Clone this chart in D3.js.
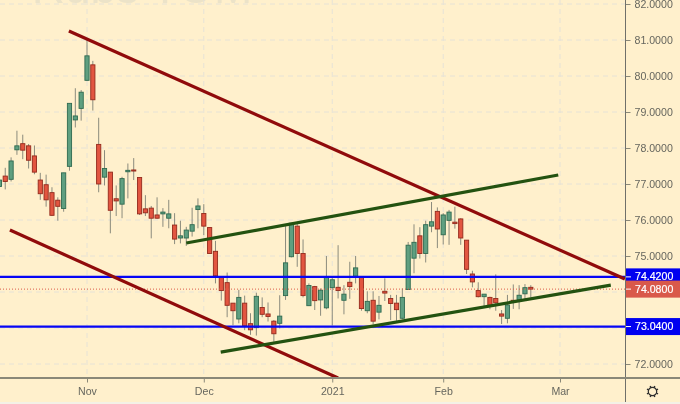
<!DOCTYPE html>
<html><head><meta charset="utf-8">
<script src="https://cdn.jsdelivr.net/npm/d3@7"></script>
<style>html,body{margin:0;padding:0;background:#fff0cc;overflow:hidden}svg{display:block;filter:blur(0.3px)}text{font-family:"Liberation Sans",Arial,sans-serif}</style>
</head><body><svg id="c" width="680" height="404"></svg>
<script>
const opens=[76.93,77.22,77.13,77.95,78.12,78.06,77.78,77.11,76.98,76.76,
76.55,76.32,77.49,78.78,79.10,79.88,80.31,78.10,77.19,77.33,
76.59,76.44,77.34,77.39,77.18,76.31,76.33,76.14,76.17,76.05,
75.86,75.50,75.50,75.69,76.29,76.18,75.79,75.13,74.43,74.26,
73.69,73.25,73.69,73.12,73.01,73.57,73.39,73.19,73.13,73.90,
74.98,75.83,75.07,73.62,74.15,73.78,73.56,74.12,74.13,73.77,
74.27,74.44,74.43,73.48,73.77,73.44,74.02,73.82,73.69,73.27,
74.07,74.94,75.56,75.07,75.83,76.24,75.59,75.99,75.94,76.03,
75.44,74.50,74.04,73.87,73.85,73.82,73.39,73.27,73.77,73.78,
73.95,74.13];
const closes=[77.11,77.07,77.64,78.06,77.94,77.66,77.33,76.73,76.56,76.13,
76.38,77.31,79.24,78.89,79.55,80.56,79.34,77.00,77.43,76.27,
76.53,77.15,77.38,77.36,76.17,76.20,76.05,76.05,76.22,76.17,
75.47,75.56,75.72,75.87,76.39,75.83,75.07,74.45,74.04,73.63,
73.48,73.85,73.06,72.95,73.88,73.38,73.32,72.84,73.33,74.81,
75.91,75.07,73.90,74.18,73.76,74.05,74.41,74.34,74.04,73.94,
74.15,74.67,73.54,73.74,73.19,73.63,73.97,73.68,73.51,73.85,
75.30,75.38,75.07,75.87,75.95,75.75,76.14,76.22,75.90,75.50,
74.63,74.28,73.87,73.94,73.63,73.70,73.33,73.64,73.74,73.91,
74.12,74.08];
const highs=[77.16,77.45,77.74,78.48,78.37,78.11,78.07,77.31,77.26,76.91,
76.63,77.31,79.24,79.66,79.61,81.00,80.42,78.84,77.94,77.33,
76.96,77.20,77.57,77.72,77.18,76.69,76.39,76.63,76.33,76.56,
76.19,75.98,75.81,76.34,76.60,76.44,75.79,75.42,74.43,74.54,
73.69,74.06,73.90,73.41,73.98,73.85,73.71,73.22,73.91,75.83,
75.91,75.91,75.46,74.24,74.17,74.10,75.00,74.43,75.30,74.19,
74.84,75.00,74.43,74.02,74.02,73.89,74.38,73.92,73.92,74.10,
75.39,75.88,75.80,75.98,76.50,76.35,76.19,76.28,76.37,76.05,
75.44,74.59,74.27,73.94,73.87,74.49,73.50,73.92,74.21,74.19,
74.22,74.19];
const lows=[76.88,76.85,77.07,77.81,77.69,77.43,77.27,76.56,76.37,76.11,
75.98,76.23,77.37,78.57,78.76,79.86,79.04,76.77,76.96,75.63,
76.11,76.05,76.60,77.11,76.14,76.11,75.49,76.03,75.81,75.77,
75.33,75.35,75.28,75.54,75.77,75.58,75.06,74.24,73.76,73.30,
73.08,73.13,72.94,72.81,72.79,73.30,73.18,72.62,72.99,73.78,
74.96,74.70,73.85,73.61,73.50,73.34,73.52,73.07,73.82,73.38,
73.81,74.24,73.48,73.41,73.10,73.24,73.75,73.22,73.20,73.24,
74.06,74.52,74.93,74.82,75.66,75.22,75.32,75.31,75.76,75.31,
74.50,74.13,73.85,73.61,73.52,73.48,73.11,73.13,73.53,73.52,
73.80,73.85];
const timeTickIndex=[15,35,57,76,96];
const timeTickLabels=["Nov","Dec","2021","Feb","Mar"];
const priceTicks=[72,73,74,75,76,77,78,79,80,81,82];
const hiddenPriceTicks=[73,74];
const redLines=[[[11.9,81.25],[107.1,74.36]],[[1.8,75.72],[58,71.61]]];
const greenLines=[[[32,75.36],[95.7,77.25]],[[37.9,72.33],[104.7,74.19]]];
const blueLevels=[74.42,73.04];
const lastPrice=74.08;
const watermark="Rubs TOM";

const W=680,H=404,plotR=625,plotB=377.5;
const x=d3.scaleLinear().domain([15,96]).range([87,560]);
const y=d3.scaleLinear().domain([72,82]).range([364,4]);
const svg=d3.select("#c");
svg.append("rect").attr("width",W).attr("height",H).attr("fill","#fff0cc");
svg.append("defs").append("clipPath").attr("id","plot").append("rect").attr("width",plotR).attr("height",plotB);
const fmt=d3.format(".4f");

// watermark
const plot=svg.append("g").attr("clip-path","url(#plot)");
plot.append("text").attr("x",142).attr("y",3).attr("text-anchor","middle")
  .attr("font-size",46).attr("fill","#ece3c8").text(watermark);

// grid
const gridColor="#e6e2d6";
plot.append("g").selectAll("line").data(priceTicks).join("line")
  .attr("x1",0).attr("x2",plotR).attr("y1",d=>y(d)).attr("y2",d=>y(d))
  .attr("stroke",gridColor).attr("stroke-dasharray","5,4");
plot.append("g").selectAll("line").data(timeTickIndex).join("line")
  .attr("x1",d=>x(d)).attr("x2",d=>x(d)).attr("y1",0).attr("y2",plotB)
  .attr("stroke",gridColor).attr("stroke-dasharray","5,4");

// candles
const idx=d3.range(opens.length);
const wickColor="#8b8b7d";
plot.append("g").selectAll("line").data(idx).join("line")
  .attr("x1",i=>x(i)).attr("x2",i=>x(i)).attr("y1",i=>y(highs[i])).attr("y2",i=>y(lows[i]))
  .attr("stroke",wickColor).attr("stroke-width",1);
plot.append("g").selectAll("rect").data(idx).join("rect")
  .attr("x",i=>x(i)-2.1).attr("width",4.2)
  .attr("y",i=>y(Math.max(opens[i],closes[i])))
  .attr("height",i=>Math.max(1,Math.abs(y(opens[i])-y(closes[i]))))
  .attr("fill",i=>closes[i]>=opens[i]?"#5f9f80":"#e25540")
  .attr("stroke",i=>closes[i]>=opens[i]?"#2f6a50":"#942a1c").attr("stroke-width",0.9);

// last price dotted
plot.append("line").attr("x1",0).attr("x2",plotR).attr("y1",y(lastPrice)).attr("y2",y(lastPrice))
  .attr("stroke","#dc5a48").attr("stroke-width",1).attr("stroke-dasharray","1,2");
// levels
plot.append("g").selectAll("line").data(blueLevels).join("line")
  .attr("x1",0).attr("x2",plotR).attr("y1",d=>y(d)).attr("y2",d=>y(d))
  .attr("stroke","#0505f5").attr("stroke-width",2.2);
// trend lines
const line=d3.line().x(d=>x(d[0])).y(d=>y(d[1]));
const trend=(data,color)=>plot.append("g").selectAll("path").data(data).join("path")
  .attr("d",line).attr("fill","none").attr("stroke",color).attr("stroke-width",3.2);
trend(redLines,"#900b0b");
trend(greenLines,"#235210");

// axes
const axisColor="#8a8878", textColor="#66665e";
const yAxis=d3.axisRight(y).tickValues(priceTicks.filter(d=>!hiddenPriceTicks.includes(d))).tickSize(5).tickPadding(4).tickFormat(fmt);
const gy=svg.append("g").attr("transform",`translate(${plotR+.5},0)`).call(yAxis);
gy.select(".domain").remove();
gy.selectAll("line").attr("stroke",axisColor);
gy.selectAll("text").attr("font-size",10.6).attr("fill",textColor).attr("font-family",null);
svg.append("line").attr("x1",plotR+.5).attr("x2",plotR+.5).attr("y1",0).attr("y2",H-2).attr("stroke","#70706a").attr("stroke-width",1);

const xAxis=d3.axisBottom(x).tickValues(timeTickIndex).tickSize(4).tickPadding(5).tickFormat((d,i)=>timeTickLabels[i]);
const gx=svg.append("g").attr("transform",`translate(0,${plotB+1})`).call(xAxis);
gx.select(".domain").remove();
gx.selectAll("line").attr("stroke",axisColor);
gx.selectAll("text").attr("font-size",10.6).attr("fill",textColor).attr("font-family",null);
svg.append("rect").attr("x",0).attr("y",plotB-.5).attr("width",W).attr("height",2).attr("fill",axisColor);

// price labels
const labels=[{v:blueLevels[0],c:"#0000f0"},{v:lastPrice,c:"#d9594a"},{v:blueLevels[1],c:"#0000f0"}];
const lab=svg.append("g").selectAll("g").data(labels).join("g").attr("transform",d=>`translate(${plotR+1},${y(d.v)})`);
lab.append("rect").attr("y",-8.5).attr("width",W-plotR-1).attr("height",17).attr("fill",d=>d.c);
lab.append("line").attr("x1",0).attr("x2",5).attr("stroke","#fff").attr("stroke-width",1);
lab.append("text").attr("x",9).attr("dy","0.34em").attr("font-size",10.6).attr("fill","#fff").attr("stroke","#fff").attr("stroke-width",0.2).text(d=>fmt(d.v));

// gear icon
const gear=svg.append("g").attr("transform","translate(652.5,391.5)").attr("fill","none").attr("stroke","#2e2e2e");
gear.append("circle").attr("r",4.2).attr("stroke-width",1.2);
gear.selectAll("line").data(d3.range(8)).join("line")
  .attr("x1",d=>4.2*Math.cos(d*Math.PI/4+Math.PI/8)).attr("y1",d=>4.2*Math.sin(d*Math.PI/4+Math.PI/8))
  .attr("x2",d=>6*Math.cos(d*Math.PI/4+Math.PI/8)).attr("y2",d=>6*Math.sin(d*Math.PI/4+Math.PI/8))
  .attr("stroke-width",1.4);
svg.append("rect").attr("x",0).attr("y",402).attr("width",W).attr("height",2).attr("fill","#f4f1e6");
</script>
</body></html>
